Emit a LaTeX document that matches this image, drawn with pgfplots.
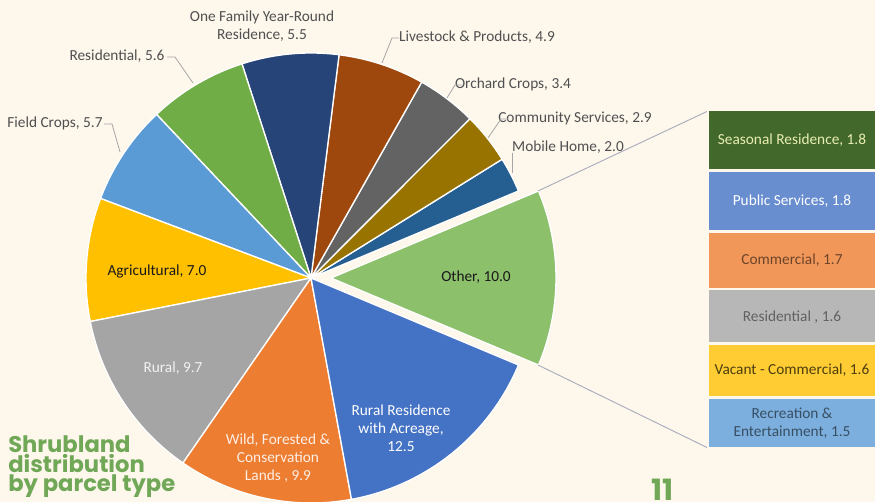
\documentclass[border=0pt]{standalone}
\usepackage{fontspec}
\setmainfont{Carlito}
\newfontfamily\titlefont{Poppins}
\usepackage{pgfplots}
\pgfplotsset{compat=1.18}

\definecolor{bgcream}{HTML}{FDF7EC}
\definecolor{titlegreen}{HTML}{70A858}
\definecolor{cRR}{HTML}{4472C4}
\definecolor{cWild}{HTML}{ED7D31}
\definecolor{cRural}{HTML}{A5A5A5}
\definecolor{cAgri}{HTML}{FFC000}
\definecolor{cField}{HTML}{5B9BD5}
\definecolor{cResid}{HTML}{70AD47}
\definecolor{cOneFam}{HTML}{264478}
\definecolor{cLive}{HTML}{9E480E}
\definecolor{cOrch}{HTML}{636363}
\definecolor{cComm}{HTML}{997300}
\definecolor{cMobile}{HTML}{255E91}
\definecolor{cOther}{HTML}{8CC06B}
\definecolor{bSeas}{HTML}{43682B}
\definecolor{bPub}{HTML}{698ED0}
\definecolor{bCom}{HTML}{F1975A}
\definecolor{bRes}{HTML}{B7B7B7}
\definecolor{bVac}{HTML}{FFCD33}
\definecolor{bRec}{HTML}{7CAFDD}
\definecolor{outertxt}{HTML}{505050}
\definecolor{leader}{HTML}{A6A6A6}
\definecolor{connector}{HTML}{A9ADBD}

\tikzset{lbl/.style={font=\fontsize{11.5}{13.5}\selectfont, align=center, inner sep=0pt}}

% pie geometry, in pixels of the reference
\def\pieR{225}
\def\pietotal{79.1}
% value, colour, centre x, centre y, explode offset
\newcommand\pieslice[5]{%
  \pgfmathsetmacro\sa{\cumangle}%
  \pgfmathsetmacro\ea{\cumangle+#1/\pietotal*360}%
  \pgfmathsetmacro\ma{(\sa+\ea)/2}%
  \pgfmathsetmacro\cx{#3+#5*cos(\ma)}%
  \pgfmathsetmacro\cy{#4+#5*sin(\ma)}%
  \pgfmathsetmacro\sx{\cx+\pieR*cos(\sa)}%
  \pgfmathsetmacro\sy{\cy+\pieR*sin(\sa)}%
  \edef\temp{\noexpand\fill[#2, draw=white, line width=1pt, line join=round]
    (axis cs:\cx,\cy) -- (axis cs:\sx,\sy)
    arc[start angle=\sa, end angle=\ea, radius=\pieR] -- cycle;}%
  \temp
  \xdef\cumangle{\ea}%
}
\newcommand\px[2]{(axis cs:#1,{502-#2})}

\begin{document}
\begin{tikzpicture}[x=0.75pt,y=0.75pt]
\path[clip, use as bounding box] (0,0) rectangle (875,502);
\fill[bgcream] (0,0) rectangle (875,502);

\begin{axis}[at={(0pt,0pt)}, anchor=south west, x=0.75pt, y=0.75pt,
  xmin=0, xmax=875, ymin=0, ymax=502, hide axis, clip=false]
\pgfmathsetmacro\startangle{-10.0/\pietotal*180}
\xdef\cumangle{\startangle}
\pieslice{10.0}{cOther}{311}{224}{20}
\pieslice{2.0}{cMobile}{311}{224}{0}
\pieslice{2.9}{cComm}{311}{224}{0}
\pieslice{3.4}{cOrch}{311}{224}{0}
\pieslice{4.9}{cLive}{311}{224}{0}
\pieslice{5.5}{cOneFam}{311}{224}{0}
\pieslice{5.6}{cResid}{311}{224}{0}
\pieslice{5.7}{cField}{311}{224}{0}
\pieslice{7.0}{cAgri}{311}{224}{0}
\pieslice{9.7}{cRural}{311}{224}{0}
\pieslice{9.9}{cWild}{311}{224}{0}
\pieslice{12.5}{cRR}{311}{224}{0}

% lines to the breakdown bar
\draw[connector, line width=0.7pt] \px{538}{191} -- \px{708}{111};
\draw[connector, line width=0.7pt] \px{538}{365} -- \px{708}{448};

% labels inside the slices
\node[lbl, text=white] at \px{401}{428} {Rural Residence\\with Acreage,\\12.5};
\node[lbl, text=white!88!cWild] at \px{278}{458} {Wild, Forested \&\\Conservation\\Lands , 9.9};
\node[lbl, text=white!95!black] at \px{173}{368} {Rural, 9.7};
\node[lbl, text=black!90] at \px{157}{272} {Agricultural, 7.0};
\node[lbl, text=black!90] at \px{476}{277} {Other, 10.0};

% labels outside with leader lines
\node[lbl, text=outertxt] at \px{55}{123} {Field Crops, 5.7};
\draw[leader, line width=0.6pt] \px{104}{124} -- \px{112}{124} -- \px{120}{152};
\node[lbl, text=outertxt] at \px{117}{56} {Residential, 5.6};
\draw[leader, line width=0.6pt] \px{167}{57} -- \px{175}{57} -- \px{193}{83};
\node[lbl, text=outertxt] at \px{262}{26} {One Family Year-Round\\Residence, 5.5};
\node[lbl, text=outertxt] at \px{477}{37} {Livestock \& Products, 4.9};
\draw[leader, line width=0.6pt] \px{399}{38} -- \px{392}{38} -- \px{382}{63};
\node[lbl, text=outertxt] at \px{513}{84} {Orchard Crops, 3.4};
\draw[leader, line width=0.6pt] \px{462}{85} -- \px{455}{85} -- \px{447}{98};
\node[lbl, text=outertxt] at \px{575}{118} {Community Services, 2.9};
\draw[leader, line width=0.6pt] \px{508}{119} -- \px{501}{119} -- \px{488}{138};
\node[lbl, text=outertxt] at \px{568}{147} {Mobile Home, 2.0};
\draw[leader, line width=0.6pt] \px{512}{153} -- \px{512}{173};
\end{axis}

\begin{axis}[at={(531pt,40.5pt)}, anchor=south west, scale only axis,
  width=126pt, height=253.5pt, hide axis, clip=false,
  ybar stacked, bar width=1, xmin=-0.5, xmax=0.5, ymin=0, ymax=10]
\addplot[fill=bRec, draw=bgcream, line width=2pt] coordinates {(0,1.5)};
\addplot[fill=bVac, draw=bgcream, line width=2pt] coordinates {(0,1.6)};
\addplot[fill=bRes, draw=bgcream, line width=2pt] coordinates {(0,1.6)};
\addplot[fill=bCom, draw=bgcream, line width=2pt] coordinates {(0,1.7)};
\addplot[fill=bPub, draw=bgcream, line width=2pt] coordinates {(0,1.8)};
\addplot[fill=bSeas, draw=bgcream, line width=2pt] coordinates {(0,1.8)};
\end{axis}

% labels of the breakdown bar
\node[lbl, text=white!85!bSeas!80!yellow] at (792,362) {Seasonal Residence, 1.8};
\node[lbl, text=white] at (792,301) {Public Services, 1.8};
\node[lbl, text=bCom!45!black] at (792,242) {Commercial, 1.7};
\node[lbl, text=black!62] at (792,185) {Residential , 1.6};
\node[lbl, text=bVac!30!black] at (792,132) {Vacant - Commercial, 1.6};
\node[lbl, text=bRec!45!black] at (792,79) {Recreation \&\\Entertainment, 1.5};

\begin{scope}[every node/.style={anchor=base west, inner sep=0pt, text=titlegreen,
    font=\titlefont\bfseries\fontsize{17}{17}\selectfont}]
\node at (8,49) {Shrubland};
\node at (8,29) {distribution};
\node at (8,10) {by parcel type};
\node[font=\titlefont\bfseries\fontsize{22}{22}\selectfont] at (651,1) {11};
\end{scope}
\end{tikzpicture}
\end{document}
